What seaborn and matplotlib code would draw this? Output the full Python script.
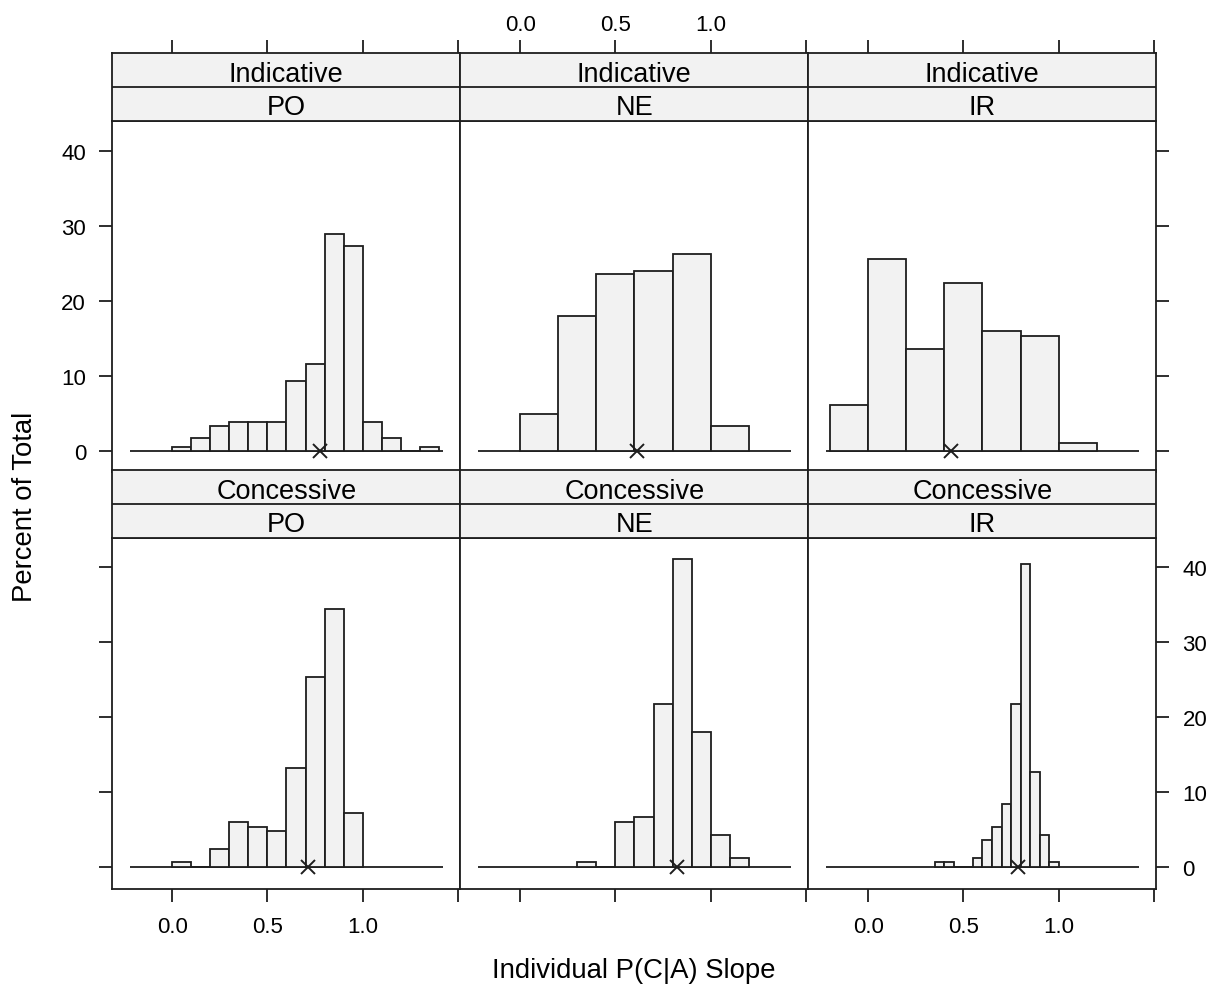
import numpy as np
import pandas as pd
import seaborn as sns
import matplotlib.pyplot as plt

moods = ['Indicative', 'Concessive']
conds = ['PO', 'NE', 'IR']

# each panel: first bin edge, bin width, percent of total per bin
ind_po_start, ind_po_width = 0.0, 0.1
ind_po_pct = [0.55, 1.65, 3.3, 3.8, 3.8, 3.8, 9.3, 11.5, 28.9, 27.3, 3.8, 1.65, 0.0, 0.55]
ind_ne_start, ind_ne_width = 0.0, 0.2
ind_ne_pct = [4.9, 18.0, 23.5, 24.0, 26.2, 3.3]
ind_ir_start, ind_ir_width = -0.2, 0.2
ind_ir_pct = [6.1, 25.6, 13.6, 22.4, 15.9, 15.3, 1.1]

con_po_start, con_po_width = 0.0, 0.1
con_po_pct = [0.67, 0.0, 2.4, 6.0, 5.4, 4.8, 13.3, 25.4, 34.4, 7.2]
con_ne_start, con_ne_width = 0.3, 0.1
con_ne_pct = [0.67, 0.0, 6.0, 6.7, 21.8, 41.1, 18.1, 4.3, 1.2]
con_ir_start, con_ir_width = 0.35, 0.05
con_ir_pct = [0.67, 0.67, 0.0, 0.0, 1.2, 3.6, 5.4, 8.5, 21.8, 40.5, 12.7, 4.3, 0.67]

# mean slope per panel (the x marker)
ind_means = [0.775, 0.613, 0.433]
con_means = [0.714, 0.825, 0.789]

x_ticks = [0.0, 0.5, 1.0, 1.5]
x_ticklabels = ['0.0', '0.5', '1.0', '']
y_ticks = [0, 10, 20, 30, 40]
baseline_span = (-0.222, 1.424)

panels = {
    ('Indicative', 'PO'): (ind_po_start, ind_po_width, ind_po_pct, ind_means[0]),
    ('Indicative', 'NE'): (ind_ne_start, ind_ne_width, ind_ne_pct, ind_means[1]),
    ('Indicative', 'IR'): (ind_ir_start, ind_ir_width, ind_ir_pct, ind_means[2]),
    ('Concessive', 'PO'): (con_po_start, con_po_width, con_po_pct, con_means[0]),
    ('Concessive', 'NE'): (con_ne_start, con_ne_width, con_ne_pct, con_means[1]),
    ('Concessive', 'IR'): (con_ir_start, con_ir_width, con_ir_pct, con_means[2]),
}

rows = []
for (mood, cond), (start, width, pct, _) in panels.items():
    for i, p in enumerate(pct):
        rows.append({'mood': mood, 'cond': cond, 'center': start + (i + 0.5) * width, 'pct': p})
df = pd.DataFrame(rows)

plt.rcParams['font.family'] = ['Liberation Sans', 'DejaVu Sans']
plt.rcParams['font.size'] = 16

W, H = 1212, 987
fig = plt.figure(figsize=(W / 100, H / 100), dpi=100)

edge = '#1e1e1e'
fill = '#f2f2f2'
lw = 1.3
xlim = (-0.315, 1.513)
ylim = (-2.8, 43.9)

col_left = [112.3, 460.3, 808.3]
col_w = 348.0
strip_h = 34.0
panel_top = [122.3, 539.0]
panel_h = 350.5


def fig_rect(x0, y0, w, h):
    # pixel box (top-left origin) -> figure fraction
    return [x0 / W, (H - y0 - h) / H, w / W, h / H]


for r, mood in enumerate(moods):
    for c, cond in enumerate(conds):
        start, width, pct, mean = panels[(mood, cond)]
        edges = [start + width * k for k in range(len(pct) + 1)]
        sub = df[(df.mood == mood) & (df.cond == cond)]

        ax = fig.add_axes(fig_rect(col_left[c], panel_top[r], col_w, panel_h))
        sns.histplot(data=sub, x='center', weights='pct', bins=edges, ax=ax,
                     color=fill, edgecolor=edge, linewidth=lw, alpha=1)
        ax.hlines(0, *baseline_span, color=edge, lw=lw, zorder=0)
        ax.plot(mean, 0, marker='x', color=edge, markersize=9.5, mew=1.4, zorder=5)
        ax.set_xlim(xlim)
        ax.set_ylim(ylim)
        ax.set_xlabel('')
        ax.set_ylabel('')
        for s in ax.spines.values():
            s.set_linewidth(lw)
            s.set_color(edge)

        ax.set_yticks(y_ticks)
        ax.set_xticks(x_ticks)
        ax.set_xticklabels(x_ticklabels)
        ax.tick_params(direction='out', length=9.4, width=lw, color=edge, labelsize=16)
        ax.tick_params(axis='y', left=(c == 0), right=(c == 2),
                       labelleft=(c == 0 and r == 0), labelright=(c == 2 and r == 1), pad=9.5)
        ax.tick_params(axis='x', bottom=(r == 1), top=False,
                       labelbottom=(r == 1 and c != 1), pad=10.5)

        # two-level strip above each panel
        sax = fig.add_axes(fig_rect(col_left[c], panel_top[r] - 2 * strip_h, col_w, 2 * strip_h))
        sax.set_facecolor(fill)
        sax.set_xlim(xlim)
        sax.set_ylim(0, 2)
        sax.axhline(1, color=edge, lw=lw)
        for s in sax.spines.values():
            s.set_linewidth(lw)
            s.set_color(edge)
        sax.text(0.5, 0.593, mood, transform=sax.transAxes, ha='center', va='baseline', fontsize=19.5)
        sax.text(0.5, 0.107, cond, transform=sax.transAxes, ha='center', va='baseline', fontsize=19.5)
        sax.set_yticks([])
        sax.set_xticks(x_ticks)
        sax.set_xticklabels(x_ticklabels)
        sax.tick_params(axis='x', direction='out', length=9.4, width=lw, color=edge, labelsize=16,
                        bottom=False, labelbottom=False, top=(r == 0),
                        labeltop=(r == 0 and c == 1), pad=4)

fig.text(634.2 / W, 1 - 971 / H, 'Individual P(C|A) Slope', ha='center', va='center', fontsize=19.8)
fig.text(25 / W, 1 - 507 / H, 'Percent of Total', ha='center', va='center', rotation=90, fontsize=19.8)

fig.savefig('out.png', dpi=100)
